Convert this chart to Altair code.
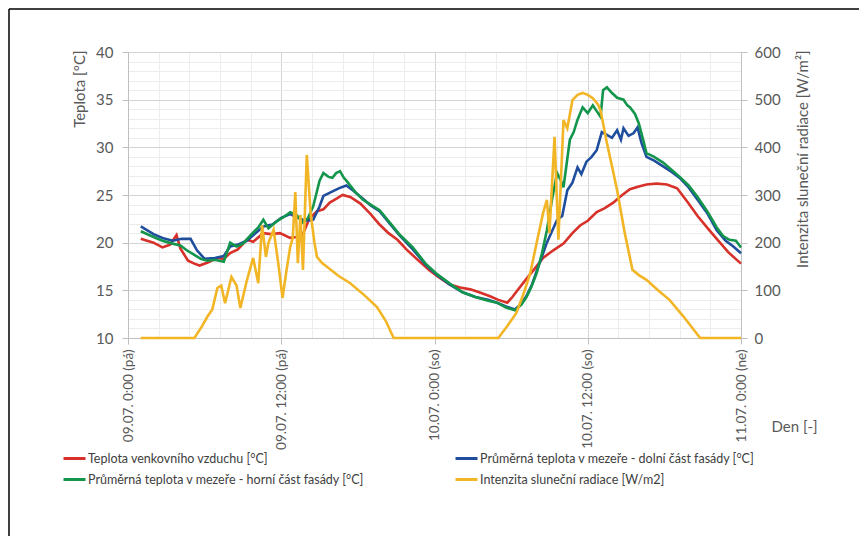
import altair as alt
import pandas as pd

SERIES = [
    "Teplota venkovního vzduchu [°C]",
    "Průměrná teplota v mezeře - dolní část fasády [°C]",
    "Průměrná teplota v mezeře - horní část fasády [°C]",
    "Intenzita sluneční radiace [W/m2]",
]
COLORS = ["#d7312a", "#1f4e9d", "#13954c", "#f2b525"]
# legend lays entries out column by column: red, green | blue, yellow
LEGEND_ORDER = [0, 2, 1, 3]

X_TICK_LABELS = ["09.07. 0:00 (pá)", "09.07. 12:00 (pá)", "10.07. 0:00 (so)",
                 "10.07. 12:00 (so)", "11.07. 0:00 (ne)"]

# hours since 09.07. 0:00 and values
red_t = [1.0, 2.0, 2.7, 3.3, 3.8, 4.1, 4.7, 5.2, 5.6, 6.2, 7.0, 7.5, 8.0, 8.6, 9.3, 9.8,
         10.6, 11.2, 11.9, 12.7, 13.2, 13.7, 14.2, 14.8, 15.3, 15.8, 16.3, 16.8, 17.4,
         18.2, 19.0, 19.7, 20.4, 21.1, 21.8, 22.6, 23.6, 24.3, 25.2, 26.0, 26.8, 27.5,
         28.3, 29.0, 29.7, 30.1, 30.5, 31.2, 31.8, 32.5, 33.3, 34.1, 34.8, 35.4, 36.0,
         36.7, 37.3, 38.0, 38.6, 39.3, 40.0, 40.6, 41.4, 42.2, 43.0, 43.8, 44.6, 45.4,
         46.1, 47.0, 48.0]
red_v = [20.4, 20.0, 19.5, 19.8, 20.8, 19.4, 18.1, 17.8, 17.6, 17.9, 18.4, 18.3, 18.9,
         19.3, 20.3, 20.1, 21.0, 20.9, 21.0, 20.5, 20.6, 20.9, 22.5, 23.3, 23.5, 24.2,
         24.6, 25.0, 24.8, 24.1, 23.0, 21.9, 21.0, 20.3, 19.3, 18.3, 17.1, 16.4, 15.6,
         15.3, 15.1, 14.8, 14.4, 14.0, 13.7, 14.3, 15.0, 16.2, 17.2, 18.4, 19.2, 19.9,
         21.0, 21.8, 22.3, 23.2, 23.6, 24.2, 24.9, 25.6, 25.9, 26.1, 26.2, 26.1, 25.7,
         24.3, 22.8, 21.5, 20.4, 19.0, 17.8]

blue_t = [1.0, 2.0, 2.7, 3.5, 4.2, 4.9, 5.4, 6.0, 6.8, 7.5, 8.0, 8.6, 9.3, 10.0, 10.6,
          11.3, 12.0, 12.7, 13.3, 13.9, 14.5, 15.0, 15.3, 15.9, 16.5, 17.1, 17.6, 18.4,
          19.0, 19.7, 20.5, 21.3, 22.3, 23.3, 24.2, 25.2, 26.2, 27.2, 28.2, 28.9, 29.6,
          30.3, 30.8, 31.2, 31.6, 32.0, 32.4, 32.8, 33.2, 33.6, 34.0, 34.4, 34.8, 35.2,
          35.5, 35.9, 36.3, 36.7, 37.1, 37.5, 37.9, 38.3, 38.6, 38.8, 39.2, 39.6, 39.9,
          40.2, 40.6, 41.2, 41.9, 42.6, 43.2, 43.9, 44.6, 45.4, 46.1, 46.8, 47.4, 48.0]
blue_v = [21.7, 20.9, 20.5, 20.2, 20.4, 20.4, 19.2, 18.3, 18.4, 18.6, 19.6, 19.8, 20.2,
          21.0, 21.7, 21.9, 22.6, 23.0, 22.6, 22.3, 22.4, 23.8, 24.9, 25.3, 25.7, 26.0,
          25.5, 24.6, 23.9, 23.3, 22.0, 20.7, 19.3, 17.7, 16.6, 15.6, 14.8, 14.3, 14.0,
          13.7, 13.3, 13.0, 13.6, 14.4, 15.5, 17.0, 18.5, 20.0, 21.2, 22.4, 22.8, 25.5,
          26.3, 27.9, 27.2, 28.5, 29.0, 29.7, 31.6, 31.3, 31.0, 31.8, 30.8, 32.0, 31.2,
          31.5, 32.1, 30.5, 29.0, 28.6, 28.0, 27.4, 26.8, 25.8, 24.5, 23.0, 21.3, 20.2,
          19.6, 18.9]

green_t = [1.0, 2.0, 2.7, 3.5, 4.1, 4.6, 5.1, 5.7, 6.2, 6.8, 7.5, 8.0, 8.5, 9.0, 9.6,
           10.2, 10.6, 11.0, 11.6, 12.2, 12.7, 13.2, 13.7, 14.1, 14.5, 15.0, 15.3, 15.7,
           16.0, 16.3, 16.6, 16.9, 17.1, 17.8, 18.4, 19.0, 19.7, 20.5, 21.3, 22.3, 23.3,
           24.2, 25.2, 26.2, 27.2, 28.2, 28.9, 29.6, 30.3, 30.8, 31.2, 31.6, 32.0, 32.4,
           32.8, 33.2, 33.6, 33.9, 34.1, 34.4, 34.6, 34.9, 35.2, 35.6, 36.0, 36.4, 36.7,
           37.0, 37.2, 37.5, 37.9, 38.3, 38.8, 39.1, 39.3, 39.7, 40.0, 40.3, 40.6, 41.2,
           41.9, 42.6, 43.2, 43.9, 44.6, 45.4, 46.1, 46.6, 47.1, 47.6, 48.0]
green_v = [21.2, 20.6, 20.2, 19.9, 19.7, 19.2, 18.8, 18.3, 18.1, 18.2, 18.0, 20.0, 19.6,
           19.9, 20.8, 21.6, 22.4, 21.5, 22.2, 22.7, 23.2, 22.9, 22.1, 22.6, 23.8, 26.5,
           27.3, 26.9, 26.8, 27.3, 27.5, 26.8, 26.5, 25.3, 24.5, 24.0, 23.4, 22.1, 20.8,
           19.5, 17.8, 16.7, 15.7, 14.8, 14.3, 13.9, 13.7, 13.2, 12.9, 13.5, 14.3, 15.4,
           16.8, 18.8, 21.3, 24.5, 27.3, 26.5, 25.8, 28.8, 30.8, 31.6, 32.9, 34.2, 33.6,
           34.4, 33.8, 33.2, 36.0, 36.3, 35.7, 35.2, 35.0, 34.4, 34.2, 33.5, 32.5, 31.0,
           29.4, 29.0, 28.4, 27.6, 26.9, 26.0, 24.8, 23.2, 21.6, 20.7, 20.3, 20.2, 19.5]

sun_t = [1.0, 5.2, 5.8, 6.2, 6.6, 7.0, 7.3, 7.6, 8.1, 8.5, 8.8, 9.3, 9.8, 10.2, 10.5,
         10.8, 11.0, 11.4, 11.8, 12.1, 12.4, 12.7, 12.9, 13.1, 13.3, 13.5, 13.7, 14.0,
         14.3, 14.6, 14.8, 15.2, 15.6, 16.5, 17.4, 18.5, 19.5, 20.2, 20.8, 29.0, 29.7,
         30.4, 31.0, 31.5, 32.0, 32.5, 32.8, 33.0, 33.4, 33.7, 34.1, 34.4, 34.8, 35.2,
         35.6, 36.0, 36.4, 36.8, 37.0, 37.5, 37.9, 38.3, 38.9, 39.5, 40.0, 40.6, 41.5,
         42.4, 43.5, 44.8, 48.0]
sun_v = [0, 0, 25, 44, 60, 105, 110, 73, 128, 110, 63, 120, 168, 115, 237, 170, 200, 227,
         150, 84, 140, 191, 210, 306, 157, 258, 143, 384, 262, 200, 170, 157, 149, 130,
         115, 90, 65, 35, 0, 0, 25, 52, 95, 136, 200, 262, 290, 220, 422, 206, 457, 440,
         499, 510, 514, 510, 503, 490, 478, 409, 360, 310, 220, 143, 132, 122, 100, 80,
         45, 0, 0]

rows = []
for name, ts, vs in [(SERIES[0], red_t, red_v), (SERIES[1], blue_t, blue_v),
                     (SERIES[2], green_t, green_v)]:
    for i, (t, v) in enumerate(zip(ts, vs)):
        rows.append({"t": t, "v": v, "series": name, "i": i})
temp_df = pd.DataFrame(rows)
sun_df = pd.DataFrame({"t": sun_t, "v": sun_v, "series": SERIES[3],
                       "i": list(range(len(sun_t)))})

FONT = "Lato"
GRAY = "#595959"
x_vals = [round(i * 2.4, 4) for i in range(21)]
major_x = "abs(datum.value/12 - round(datum.value/12)) < 0.001"
label_list = "[" + ",".join("'" + s + "'" for s in X_TICK_LABELS) + "]"

legend_domain = [SERIES[k] for k in LEGEND_ORDER]
legend_range = [COLORS[k] for k in LEGEND_ORDER]

color = alt.Color(
    "series:N",
    scale=alt.Scale(domain=legend_domain, range=legend_range),
    sort=legend_domain,
    legend=alt.Legend(
        orient="none", legendX=-66, legendY=394, columns=2, columnPadding=84,
        rowPadding=2, symbolType="stroke", symbolSize=484, symbolStrokeWidth=3,
        labelFont=FONT, labelFontSize=12.5, labelColor="#404040", title=None,
        labelLimit=0, labelOffset=1,
    ),
)

x_enc = alt.X(
    "t:Q",
    scale=alt.Scale(domain=[0, 48], nice=False, zero=False),
    axis=alt.Axis(
        values=x_vals,
        labelExpr=f"{major_x} ? {label_list}[round(datum.value/12)] : ''",
        labelAngle=270, labelAlign="right", labelBaseline="middle",
        labelFont=FONT, labelFontSize=13.5, labelColor=GRAY, labelPadding=5,
        labelOverlap=False, labelFlush=False,
        tickSize=6, tickColor="#bfbfbf",
        tickOpacity={"condition": {"test": major_x, "value": 1}, "value": 0},
        gridColor={"condition": {"test": major_x, "value": "#d4d4d4"}, "value": "#ececec"},
        domainColor="#bfbfbf",
        title="Den [-]", titleX=643, titleY=88, titleAlign="left",
        titleBaseline="middle", titleFont=FONT, titleFontSize=15,
        titleFontWeight="normal", titleColor=GRAY,
    ),
)

temp = alt.Chart(temp_df).mark_line(strokeWidth=2.6).encode(
    x=x_enc,
    y=alt.Y(
        "v:Q",
        scale=alt.Scale(domain=[10, 40], nice=False, zero=False),
        axis=alt.Axis(
            values=list(range(10, 41)),
            labelExpr="datum.value % 5 === 0 ? datum.label : ''",
            labelFont=FONT, labelFontSize=15, labelColor=GRAY, labelPadding=9,
            labelOverlap=False,
            tickSize=6, tickColor="#bfbfbf",
            tickOpacity={"condition": {"test": "datum.value % 5 === 0", "value": 1}, "value": 0},
            gridColor={"condition": {"test": "datum.value % 5 === 0", "value": "#d4d4d4"},
                       "value": "#ececec"},
            domainColor="#bfbfbf",
            title="Teplota [°C]", titleAngle=270, titleX=-49, titleY=-2,
            titleAlign="right", titleBaseline="middle", titleFont=FONT,
            titleFontSize=15, titleFontWeight="normal", titleColor=GRAY,
        ),
    ),
    color=color,
    order="i:Q",
)

sun = alt.Chart(sun_df).mark_line(strokeWidth=2.6).encode(
    x=x_enc,
    y=alt.Y(
        "v:Q",
        scale=alt.Scale(domain=[0, 600], nice=False, zero=False),
        axis=alt.Axis(
            orient="right", values=list(range(0, 601, 100)), grid=False,
            labelFont=FONT, labelFontSize=15, labelColor=GRAY, labelPadding=7,
            tickSize=6, tickColor="#bfbfbf", domainColor="#bfbfbf",
            title="Intenzita sluneční radiace [W/m²]", titleAngle=270, titleX=61,
            titleY=-2, titleAlign="right", titleBaseline="middle", titleFont=FONT,
            titleFontSize=15, titleFontWeight="normal", titleColor=GRAY,
        ),
    ),
    color=color,
    order="i:Q",
)

frame_v = alt.Chart(pd.DataFrame({"a": [0]})).mark_rule(color="#000000", strokeWidth=1.5).encode(
    x=alt.value(-119), y=alt.value(-43), y2=alt.value(500)
)
frame_h = alt.Chart(pd.DataFrame({"a": [0]})).mark_rule(color="#000000", strokeWidth=1.5).encode(
    x=alt.value(-119), x2=alt.value(740), y=alt.value(-43)
)

chart = (
    alt.layer(temp, sun, frame_v, frame_h)
    .resolve_scale(y="independent")
    .properties(
        width=613, height=286,
        autosize=alt.AutoSizeParams(type="none"),
        padding={"left": 120, "top": 44, "right": 118, "bottom": 198},
        background="white",
    )
    .configure_view(stroke=None)
)

chart.save("out.html", embed_options={"renderer": "svg", "actions": False})
